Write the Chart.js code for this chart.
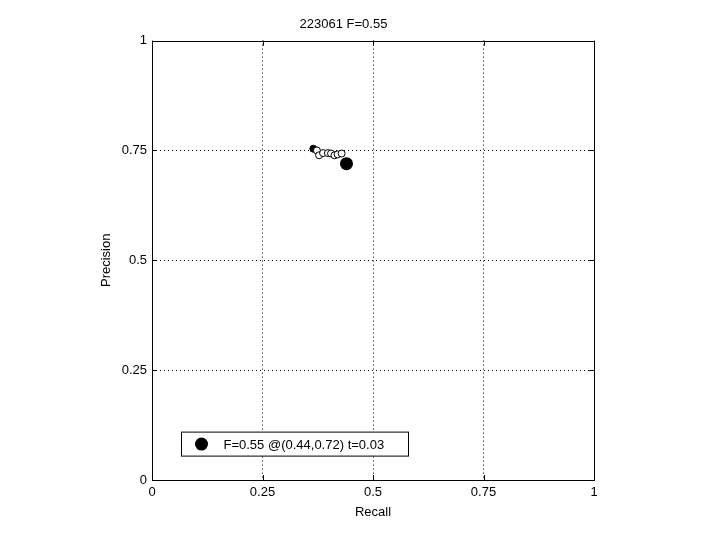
<!DOCTYPE html>
<html>
<head>
<meta charset="utf-8">
<script src="https://cdn.jsdelivr.net/npm/chart.js@4/dist/chart.umd.min.js"></script>
<style>
  html, body { margin: 0; padding: 0; background: #fff; }
  #wrap { width: 720px; height: 540px; }
</style>
</head>
<body>
<div id="wrap"><canvas id="pr"></canvas></div>
<script>
// precision/recall points for each threshold
const recall = [0.365, 0.373, 0.378, 0.387, 0.398, 0.405, 0.413, 0.420, 0.429];
const precision = [0.754, 0.750, 0.739, 0.744, 0.744, 0.743, 0.739, 0.741, 0.743];
// best F point
const bestRecall = [0.44];
const bestPrecision = [0.72];
const bestLabel = 'F=0.55 @(0.44,0.72) t=0.03';
const titleText = '223061 F=0.55';
const tickValues = [0, 0.25, 0.5, 0.75, 1];
const tickLabels = ['0', '0.25', '0.5', '0.75', '1'];

const FONT = "'Liberation Sans', Arial, sans-serif";

function toPoints(xs, ys) {
    return xs.map((x, i) => ({ x: x, y: ys[i] }));
}

// box round the axes + small inward ticks on all sides + legend inside the plot
const boxPlugin = {
    id: 'box',
    afterDraw(chart) {
        const ctx = chart.ctx;
        const a = chart.chartArea;
        const xs = chart.scales.x, ys = chart.scales.y;
        ctx.save();
        ctx.strokeStyle = '#000';
        ctx.lineWidth = 1;
        ctx.strokeRect(Math.round(a.left) + 0.5, Math.round(a.top) + 0.5,
            Math.round(a.right - a.left), Math.round(a.bottom - a.top));
        ctx.beginPath();
        tickValues.forEach(v => {
            const px = Math.round(xs.getPixelForValue(v)) + 0.5;
            ctx.moveTo(px, a.bottom); ctx.lineTo(px, a.bottom - 5);
            ctx.moveTo(px, a.top); ctx.lineTo(px, a.top + 5);
            const py = Math.round(ys.getPixelForValue(v)) + 0.5;
            ctx.moveTo(a.left, py); ctx.lineTo(a.left + 5, py);
            ctx.moveTo(a.right, py); ctx.lineTo(a.right - 5, py);
        });
        ctx.stroke();

        // legend
        const ds = chart.data.datasets[1];
        const lx = a.left + 29.5, ly = a.top + 391.5, lw = 227, lh = 24;
        ctx.fillStyle = '#fff';
        ctx.fillRect(lx, ly, lw, lh);
        ctx.strokeRect(lx, ly, lw, lh);
        ctx.fillStyle = '#000';
        ctx.beginPath();
        ctx.arc(lx + 20, ly + lh / 2, ds.pointRadius, 0, Math.PI * 2);
        ctx.fill();
        ctx.font = '13px ' + FONT;
        ctx.textBaseline = 'middle';
        ctx.fillText(ds.label, lx + 42, ly + lh / 2 + 1);
        ctx.restore();
    }
};

function axisOpts(title, isY) {
    return {
        type: 'linear',
        min: 0,
        max: 1,
        afterBuildTicks: s => { s.ticks = tickValues.map(v => ({ value: v })); },
        afterFit: s => {
            if (isY) s.width = 59; else s.height = 40;
        },
        ticks: {
            color: '#000',
            font: { family: FONT, size: 13 },
            padding: 5,
            maxRotation: 0,
            callback: (v) => tickLabels[tickValues.indexOf(v)]
        },
        grid: {
            drawTicks: false,
            color: c => (c.tick && (c.tick.value === 0 || c.tick.value === 1)) ? 'rgba(0,0,0,0)' : '#000',
            lineWidth: 1
        },
        border: { display: false, dash: [1, 3] },
        title: {
            display: true,
            text: title,
            color: '#000',
            font: { family: FONT, size: 13 },
            padding: { top: 6, bottom: 0 }
        }
    };
}

const xAxis = axisOpts('Recall', false);
const yAxis = axisOpts('Precision', true);

new Chart(document.getElementById('pr'), {
    type: 'scatter',
    data: {
        datasets: [
            {
                label: 'thresholds',
                data: toPoints(recall, precision),
                pointRadius: 3.5,
                pointBorderWidth: 1,
                pointBorderColor: '#000',
                pointBackgroundColor: recall.map((r, i) => i === 0 ? '#000' : '#fff'),
                showLine: false
            },
            {
                label: bestLabel,
                data: toPoints(bestRecall, bestPrecision),
                pointRadius: 6.5,
                pointBorderWidth: 0,
                pointBackgroundColor: '#000',
                showLine: false
            }
        ]
    },
    options: {
        responsive: true,
        maintainAspectRatio: false,
        animation: false,
        layout: { padding: { left: 93, right: 126, top: 0, bottom: 20 } },
        scales: { x: xAxis, y: yAxis },
        plugins: {
            legend: { display: false },
            tooltip: { enabled: false },
            title: {
                display: true,
                text: titleText,
                color: '#000',
                font: { family: FONT, size: 13, weight: 'normal' },
                padding: { top: 17, bottom: 8 }
            }
        }
    },
    plugins: [boxPlugin]
});
</script>
</body>
</html>
